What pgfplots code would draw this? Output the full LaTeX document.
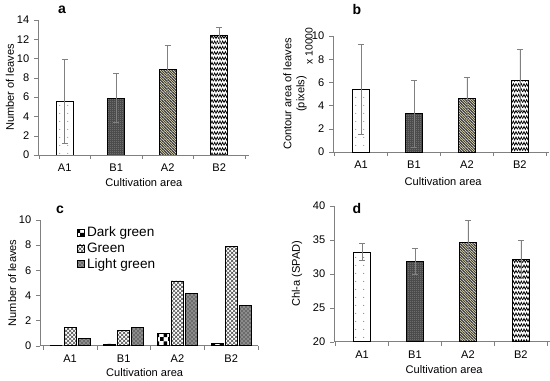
\documentclass[border=0pt]{standalone}
\usepackage{fontspec}
\setmainfont{Liberation Sans}
\usepackage{pgfplots}
\pgfplotsset{compat=1.18}
\usetikzlibrary{patterns}

\pgfdeclarepatternformonly{sparsedots}{\pgfpointorigin}{\pgfpoint{6pt}{6pt}}{\pgfpoint{6pt}{6pt}}{%
  \pgfpathcircle{\pgfpoint{3pt}{3pt}}{0.45pt}\pgfusepath{fill}}
\pgfdeclarepatternformonly{zigzag}{\pgfpoint{-0.5pt}{-0.5pt}}{\pgfpoint{4.5pt}{4.5pt}}{\pgfpoint{4pt}{4pt}}{%
  \pgfsetlinewidth{0.55pt}%
  \pgfpathmoveto{\pgfpoint{0pt}{0.8pt}}%
  \pgfpathlineto{\pgfpoint{1pt}{3pt}}%
  \pgfpathlineto{\pgfpoint{2pt}{0.8pt}}%
  \pgfpathlineto{\pgfpoint{3pt}{3pt}}%
  \pgfpathlineto{\pgfpoint{4pt}{0.8pt}}%
  \pgfusepath{stroke}}
\pgfdeclarepatternformonly{finegrid}{\pgfpoint{-0.5pt}{-0.5pt}}{\pgfpoint{2pt}{2pt}}{\pgfpoint{1.5pt}{1.5pt}}{%
  \pgfsetlinewidth{0.3pt}%
  \pgfpathmoveto{\pgfpoint{0pt}{0.75pt}}\pgfpathlineto{\pgfpoint{1.5pt}{0.75pt}}%
  \pgfpathmoveto{\pgfpoint{0.75pt}{0pt}}\pgfpathlineto{\pgfpoint{0.75pt}{1.5pt}}%
  \pgfusepath{stroke}}
\pgfdeclarepatternformonly{finenwlines}{\pgfpoint{-0.5pt}{-0.5pt}}{\pgfpoint{2.5pt}{2.5pt}}{\pgfpoint{2pt}{2pt}}{%
  \pgfsetlinewidth{0.5pt}%
  \pgfpathmoveto{\pgfpoint{0pt}{2pt}}\pgfpathlineto{\pgfpoint{2pt}{0pt}}%
  \pgfpathmoveto{\pgfpoint{-1pt}{1pt}}\pgfpathlineto{\pgfpoint{1pt}{-1pt}}%
  \pgfpathmoveto{\pgfpoint{1pt}{3pt}}\pgfpathlineto{\pgfpoint{3pt}{1pt}}%
  \pgfusepath{stroke}}
\pgfdeclarepatternformonly{bigchecker}{\pgfpointorigin}{\pgfpoint{6pt}{6pt}}{\pgfpoint{6pt}{6pt}}{%
  \pgfpathrectangle{\pgfpointorigin}{\pgfpoint{3pt}{3pt}}%
  \pgfpathrectangle{\pgfpoint{3pt}{3pt}}{\pgfpoint{3pt}{3pt}}%
  \pgfusepath{fill}}

\definecolor{axgray}{RGB}{128,128,128}
\definecolor{khaki}{RGB}{222,216,186}
\definecolor{dgray}{RGB}{110,110,100}

\pgfplotsset{
  panel/.style={
    scale only axis,
    anchor=south west,
    axis lines*=left,
    axis line style={axgray},
    tick align=outside,
    major tick length=3pt,
    minor tick length=3pt,
    ytick style={axgray},
    major x tick style={draw=none},
    minor x tick style={axgray},
    minor xtick={-0.5,0.5,1.5,2.5,3.5},
    xtick={0,1,2,3},
    xticklabels={A1,B1,A2,B2},
    tick label style={font=\fontsize{8.3}{9.5}\selectfont},
    label style={font=\fontsize{8.3}{9.5}\selectfont},
    /pgf/number format/assume math mode=true,
    xlabel={Cultivation area},
    ybar,
    bar width=12.75pt,
    error bars/y dir=both,
    error bars/y explicit,
    error bars/error bar style={axgray, line width=0.5pt},
    error bars/error mark options={rotate=90, mark size=2.2pt, axgray, line width=0.5pt},
  },
  pA1/.style={draw=black, fill=white, postaction={pattern=sparsedots, pattern color=gray}, bar shift=0pt},
  pB1/.style={draw=black, fill=dgray, postaction={pattern=finegrid, pattern color=black!70}, bar shift=0pt},
  pA2/.style={draw=black, fill=khaki, postaction={pattern=finenwlines, pattern color=black!75}, bar shift=0pt},
  pB2/.style={draw=black, fill=white, postaction={pattern=zigzag, pattern color=black}, bar shift=0pt},
}

\begin{document}
\begin{tikzpicture}

% ---------------- panel a
\begin{axis}[panel,
  at={(28.5pt,169.5pt)}, width=158.25pt, height=101.25pt,
  xmin=-0.52, xmax=3.58, ymin=0, ymax=14, ytick={0,2,...,14},
  ylabel={Number of leaves},
  ylabel style={at={(axis description cs:-0.133,0.5)}, anchor=center},
  xlabel style={at={(axis description cs:0.502,-0.207)}, anchor=center},
]
\addplot[pA1] coordinates {(0,5.55) +- (0,4.35)};
\addplot[pB1] coordinates {(1,5.9) +- (0,2.55)};
\addplot[pA2] coordinates {(2,8.9) +- (0,2.45)};
\addplot[pB2] coordinates {(3,12.45) +- (0,0.75)};
\end{axis}

% ---------------- panel b
\begin{axis}[panel, clip=false,
  at={(249.75pt,171.75pt)}, width=162pt, height=87pt,
  xmin=-0.53, xmax=3.55, ymin=0, ymax=10, ytick={0,2,...,10},
  ylabel={\begin{tabular}{c}Contour area of leaves\\(pixels)\end{tabular}},
  ylabel style={at={(axis description cs:-0.175,0.5)}, anchor=center, font=\fontsize{8.3}{9.8}\selectfont},
  xlabel style={at={(axis description cs:0.51,-0.259)}, anchor=center},
]
\addplot[pA1] coordinates {(0,5.4) +- (0,3.85)};
\addplot[pB1] coordinates {(1,3.3) +- (0,2.9)};
\addplot[pA2] coordinates {(2,4.6) +- (0,1.8)};
\addplot[pB2] coordinates {(3,6.2) +- (0,2.65)};
\node[rotate=90, font=\fontsize{7.8}{9}\selectfont] at (axis description cs:-0.111,0.914) {x 10000};
\end{axis}

% ---------------- panel c
\begin{axis}[panel,
  at={(30pt,26.475pt)}, width=163.5pt, height=94.3pt,
  xmin=-0.56, xmax=3.5, ymin=0, ymax=10, ytick={0,2,...,10},
  ybar=1.5pt, bar width=9pt,
  ylabel={Number of leaves},
  ylabel style={at={(axis description cs:-0.128,0.5)}, anchor=center},
  xlabel style={at={(axis description cs:0.48,-0.217)}, anchor=center},
  legend style={at={(axis description cs:0.15,0.99)}, anchor=north west, draw=none, fill=none,
    font=\fontsize{10.2}{11}\selectfont, cells={anchor=west}, row sep=-1pt,
    /tikz/every even column/.append style={column sep=0pt}},
  legend image code/.code={\draw[#1, draw=black] (0pt,-2.6pt) rectangle (5.2pt,2.6pt);},
]
\addplot[draw=black, fill=white, postaction={pattern=bigchecker, pattern color=black}] coordinates {(0,0) (1,0.15) (2,1.0) (3,0.2)};
\addplot[draw=black, fill=white, postaction={pattern=crosshatch, pattern color=black!70}] coordinates {(0,1.45) (1,1.2) (2,5.15) (3,7.9)};
\addplot[draw=black, fill=black!45, postaction={pattern=crosshatch dots, pattern color=black}] coordinates {(0,0.6) (1,1.45) (2,4.15) (3,3.2)};
\legend{Dark green, Green, Light green}
\end{axis}

% ---------------- panel d
\begin{axis}[panel,
  at={(250.5pt,29.475pt)}, width=162pt, height=102pt,
  xmin=-0.53, xmax=3.55, ymin=20, ymax=40, ytick={20,25,...,40},
  ylabel={Chl-a (SPAD)},
  ylabel style={at={(axis description cs:-0.171,0.5)}, anchor=center},
  xlabel style={at={(axis description cs:0.51,-0.208)}, anchor=center},
]
\addplot[pA1] coordinates {(0,33.2) +- (0,1.2)};
\addplot[pB1] coordinates {(1,31.8) +- (0,1.9)};
\addplot[pA2] coordinates {(2,34.6) +- (0,3.3)};
\addplot[pB2] coordinates {(3,32.1) +- (0,2.8)};
\end{axis}

% panel letters
\node[font=\fontsize{10.5}{12}\bfseries] at (46.5pt,278.25pt) {a};
\node[font=\fontsize{10.5}{12}\bfseries] at (267.75pt,278.25pt) {b};
\node[font=\fontsize{10.5}{12}\bfseries] at (45pt,128.25pt) {c};
\node[font=\fontsize{10.5}{12}\bfseries] at (267.75pt,129pt) {d};

\pgfresetboundingbox
\path (0pt,0pt) rectangle (412.5pt,285.75pt);
\end{tikzpicture}
\end{document}
